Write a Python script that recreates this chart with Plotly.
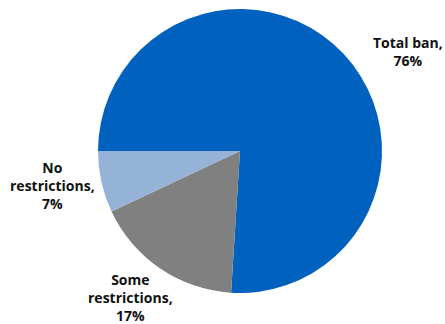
import plotly.graph_objects as go

# Share of respondents by restriction type
categories = ["Total ban", "Some restrictions", "No restrictions"]
shares = [76, 17, 7]
label_lines = [["Total ban,", "76%"], ["Some", "restrictions,", "17%"], ["No", "restrictions,", "7%"]]

colors = ["#0062BE", "#808080", "#95B3D7"]

W, H = 445, 324

fig = go.Figure(
    go.Pie(
        labels=categories,
        values=shares,
        sort=False,
        direction="clockwise",
        rotation=-90,
        marker=dict(colors=colors, line=dict(width=0)),
        textinfo="none",
        hoverinfo="label+percent",
        domain=dict(x=[98 / W, 382 / W], y=[1 - 293 / H, 1 - 9 / H]),
    )
)

# Outside labels (pixel anchor -> paper coords)
label_pos = [(408, 51), (130, 297), (52, 185)]
for lines, (px, py) in zip(label_lines, label_pos):
    fig.add_annotation(
        x=px / W,
        y=1 - py / H,
        xref="paper",
        yref="paper",
        text="<br>".join(lines),
        showarrow=False,
        align="center",
        xanchor="center",
        yanchor="middle",
        font=dict(family="Open Sans", size=14, color="#111111", weight="bold"),
    )

fig.update_layout(
    width=W,
    height=H,
    margin=dict(l=0, r=0, t=0, b=0),
    showlegend=False,
    paper_bgcolor="white",
    plot_bgcolor="white",
)

fig.write_html("out.html")
